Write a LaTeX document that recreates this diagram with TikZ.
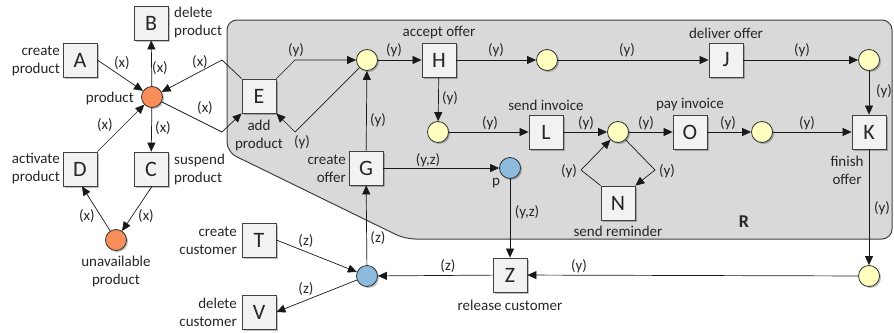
\documentclass[tikz,border=0pt]{standalone}
\usepackage{fontspec}
\setmainfont{Carlito}
\usetikzlibrary{arrows.meta,shadows}
\definecolor{boxfill}{HTML}{F2F2F2}
\definecolor{regfill}{HTML}{D9D9D9}
\definecolor{yelfill}{HTML}{FFFFC0}
\definecolor{orafill}{HTML}{F88F5A}
\definecolor{bluefill}{HTML}{8DBBDD}
\definecolor{txt}{HTML}{262626}
\begin{document}
\begin{tikzpicture}[x=1pt,y=-1pt,
  font=\fontsize{15}{18}\selectfont, text=txt,
  shad/.style={drop shadow={shadow xshift=1.5pt,shadow yshift=-1.5pt,fill=black,opacity=0.25}},
  box/.style={draw=black!75, fill=boxfill, minimum size=34pt, inner sep=0pt, line width=0.8pt,
              font=\fontsize{22}{24}\selectfont, shad},
  place/.style={circle, draw=black!80, minimum size=21pt, inner sep=0pt, line width=0.8pt, shad},
  yel/.style={place, fill=yelfill},
  ora/.style={place, fill=orafill},
  blu/.style={place, fill=bluefill},
  arc/.style={-{Triangle[length=9pt,width=8pt]}, line width=0.7pt, draw=black!90},
  lbl/.style={inner sep=0pt, align=center},
  lab/.style={inner sep=0pt},
]
\useasboundingbox (0,0) rectangle (894,332);
% region R
\filldraw[fill=regfill, draw=black!75, line width=1pt, rounded corners=10pt]
  (500,20) -- (892,20) -- (892,239) -- (405,239) -- (227,152) -- (227,20) -- cycle;
\node[font=\fontsize{18}{20}\selectfont\bfseries] (Rl) at (744,222) {R};

% boxes
\node[box] (A) at (80,60) {A};
\node[box] (B) at (151,23) {B};
\node[box] (D) at (80,169) {D};
\node[box] (C) at (151,169) {C};
\node[box] (E) at (259,96) {E};
\node[box] (H) at (439,60) {H};
\node[box] (J) at (726,60) {J};
\node[box] (G) at (366,168) {G};
\node[box] (L) at (546,132) {L};
\node[box] (O) at (690,132) {O};
\node[box] (K) at (869,132) {K};
\node[box] (N) at (618,203) {N};
\node[box] (Z) at (510,275) {Z};
\node[box] (T) at (259,240) {T};
\node[box] (V) at (259,312) {V};

% places
\node[ora] (prod) at (152,97) {};
\node[ora] (unav) at (116,240) {};
\node[yel] (c1) at (367,60) {};
\node[yel] (c2) at (547,60) {};
\node[yel] (c3) at (869,60) {};
\node[yel] (c4) at (438,132) {};
\node[yel] (c5) at (618,132) {};
\node[yel] (c6) at (762,132) {};
\node[yel] (c7) at (869,276) {};
\node[blu] (p) at (510,168) {};
\node[blu] (cust) at (367,276) {};

% coordinates for bends
\coordinate (e1) at (222,60);
\coordinate (e2) at (222,132);
\coordinate (e3) at (295,60);
\coordinate (e4) at (295,132);
\coordinate (n1) at (655,170);
\coordinate (n2) at (581,170);

% node labels
\node[lbl, anchor=east, align=right] (tA) at (60,61) {create\\product};
\node[lbl, anchor=west, align=left] (tB) at (174,23) {delete\\product};
\node[lbl, anchor=east] (tprod) at (134,98) {product};
\node[lbl, anchor=east, align=right] (tD) at (60,169) {activate\\product};
\node[lbl, anchor=west, align=left] (tC) at (174,169) {suspend\\product};
\node[lbl] (tun) at (116,271) {unavailable\\product};
\node[lbl] (tE) at (259,135) {add\\product};
\node[lbl] (tH) at (439,33) {accept offer};
\node[lbl] (tJ) at (726,33) {deliver offer};
\node[lbl] (tL) at (546,105) {send invoice};
\node[lbl] (tO) at (690,105) {pay invoice};
\node[lbl] (tK) at (847,170) {finish\\offer};
\node[lbl, anchor=east, align=right] (tG) at (346,169) {create\\offer};
\node[lbl] (tp) at (496,183) {p};
\node[lbl] (tN) at (618,231) {send reminder};
\node[lbl] (tZ) at (510,305) {release customer};
\node[lbl, anchor=east, align=right] (tT) at (237,241) {create\\customer};
\node[lbl, anchor=east, align=right] (tV) at (237,312) {delete\\customer};

% arcs
\draw[arc] (A.east) -- (prod);
\draw[arc] (prod) -- (B);
\draw[arc] (prod) -- (C);
\draw[arc] (D.north east) -- (prod);
\draw[arc] ([xshift=1pt]C.south) -- (unav);
\draw[arc] (unav) -- ([xshift=2pt]D.south);
\draw[arc] (E.north west) -- (e1) -- (prod);
\draw[arc] (prod) -- (e2) -- (E.south west);
\draw[arc] (E.north east) -- (e3) -- (c1);
\draw[arc] (c1) -- (e4) -- (E.south east);
\draw[arc] (G) -- (c1);
\draw[arc] (c1) -- (H);
\draw[arc] (H) -- (c2);
\draw[arc] (c2) -- (J);
\draw[arc] (J) -- (c3);
\draw[arc] (c3) -- (K);
\draw[arc] (H) -- (c4);
\draw[arc] (c4) -- (L);
\draw[arc] (L) -- (c5);
\draw[arc] (c5) -- (O);
\draw[arc] (O) -- (c6);
\draw[arc] (c6) -- (K);
\draw[arc] (c5) -- (n1) -- (N.north east);
\draw[arc] (N.north west) -- (n2) -- (c5);
\draw[arc] (G) -- (p);
\draw[arc] (p) -- (Z);
\draw[arc] (K) -- (c7);
\draw[arc] (c7) -- (Z);
\draw[arc] (Z) -- (cust);
\draw[arc] (cust) -- (G);
\draw[arc] (T.east) -- (cust);
\draw[arc] (cust) -- (V.east);

% arc labels
\node[lab] (l1) at (122,63) {(x)};
\node[lab] (l2) at (160,68) {(x)};
\node[lab] (l3) at (163,128) {(x)};
\node[lab] (l4) at (105,125) {(x)};
\node[lab] (l5) at (146,216) {(x)};
\node[lab] (l6) at (87,216) {(x)};
\node[lab] (l7) at (200,62) {(x)};
\node[lab] (l8) at (205,108) {(x)};
\node[lab] (l9) at (296,50) {(y)};
\node[lab] (l10) at (302,142) {(y)};
\node[lab] (l11) at (378,120) {(y)};
\node[lab] (l12) at (394,50) {(y)};
\node[lab] (l13) at (496,50) {(y)};
\node[lab] (l14) at (627,50) {(y)};
\node[lab] (l15) at (802,50) {(y)};
\node[lab] (l16) at (884,91) {(y)};
\node[lab] (l17) at (450,98) {(y)};
\node[lab] (l18) at (490,123) {(y)};
\node[lab] (l19) at (586,123) {(y)};
\node[lab] (l20) at (646,123) {(y)};
\node[lab] (l21) at (728,123) {(y)};
\node[lab] (l22) at (807,123) {(y)};
\node[lab] (l23) at (667,171) {(y)};
\node[lab] (l24) at (569,171) {(y)};
\node[lab] (l25) at (428,160) {(y,z)};
\node[lab] (l26) at (527,212) {(y,z)};
\node[lab] (l27) at (882,208) {(y)};
\node[lab] (l28) at (579,266) {(y)};
\node[lab] (l29) at (448,266) {(z)};
\node[lab] (l30) at (378,238) {(z)};
\node[lab] (l31) at (306,241) {(z)};
\node[lab] (l32) at (306,289) {(z)};
\end{tikzpicture}
\end{document}
